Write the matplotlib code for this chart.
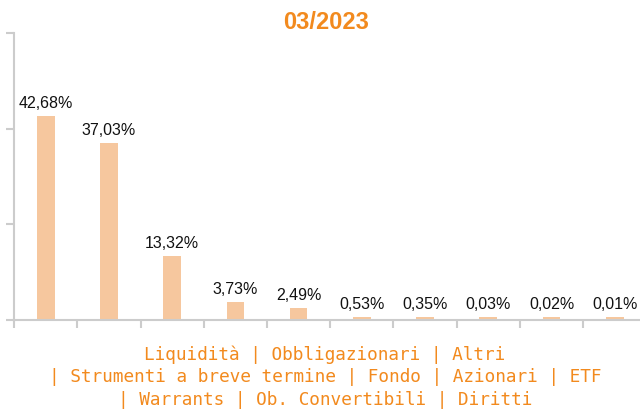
import numpy as np
import matplotlib.pyplot as plt

# quote percentuali per tipologia di strumento
values = [42.68, 37.03, 13.32, 3.73, 2.49, 0.53, 0.35, 0.03, 0.02, 0.01]
value_labels = ['42,68%', '37,03%', '13,32%', '3,73%', '2,49%',
                '0,53%', '0,35%', '0,03%', '0,02%', '0,01%']
title = '03/2023'
categories_text = ('Liquidità | Obbligazionari | Altri\n'
                   '| Strumenti a breve termine | Fondo | Azionari | ETF\n'
                   '| Warrants | Ob. Convertibili | Diritti')

orange = '#F28A1E'
bar_color = '#F6C79E'
axis_color = '#cccccc'

fig = plt.figure(figsize=(6.4, 4.1), dpi=100)
ax = fig.add_axes([0.022, 0.217, 0.988, 0.700])

x = np.arange(len(values))
# altezza minima visibile per le barre molto piccole
heights = np.maximum(values, 0.6)
ax.bar(x, heights, width=0.28, color=bar_color)

for xi, h, lab in zip(x, heights, value_labels):
    ax.text(xi, h + 1.3, lab, ha='center', va='bottom', fontsize=11.5,
            family='Liberation Sans', color='#111111')

ax.set_xlim(-0.5, len(values) - 0.5)
ax.set_ylim(0, 60)
ax.set_yticks([0, 20, 40, 60])
ax.set_yticklabels([])
ax.set_xticks(np.arange(len(values)) - 0.5)
ax.set_xticklabels([])
ax.tick_params(axis='both', direction='out', length=6, width=1.5, color=axis_color)

for side in ['top', 'right']:
    ax.spines[side].set_visible(False)
for side in ['left', 'bottom']:
    ax.spines[side].set_color(axis_color)
    ax.spines[side].set_linewidth(1.5)

fig.text(0.51, 0.946, title, ha='center', va='center', fontsize=17,
         fontweight='bold', color=orange, family='Liberation Sans')

fig.text(0.508, 0.08, categories_text, ha='center', va='center',
         multialignment='center', fontsize=12.8, color=orange,
         family='DejaVu Sans Mono', linespacing=1.3)

fig.savefig('out.png', dpi=100)
